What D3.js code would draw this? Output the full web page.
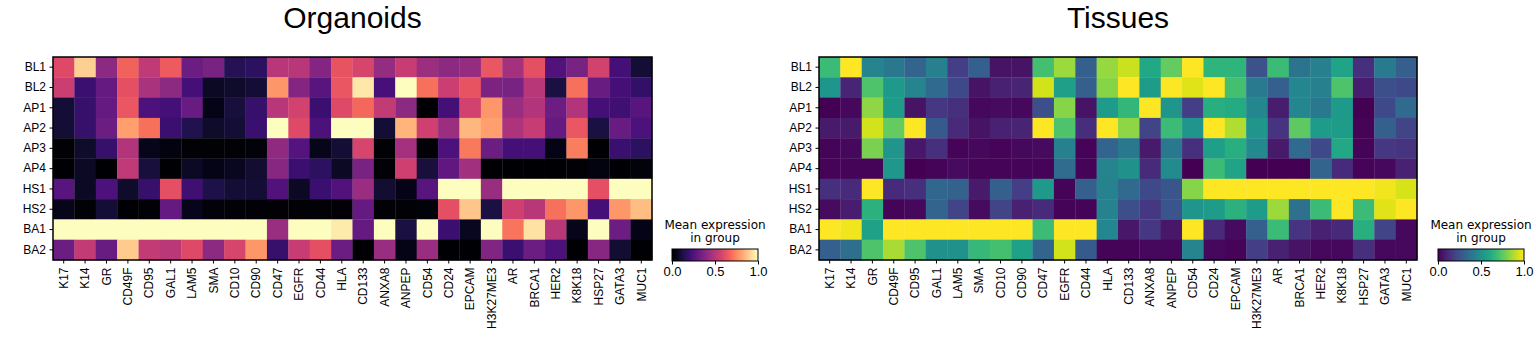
<!DOCTYPE html>
<html>
<head>
<meta charset="utf-8">
<script src="https://cdn.jsdelivr.net/npm/d3@7"></script>
<style>
  body { margin: 0; background: #fff; }
  svg { display: block; font-family: "DejaVu Sans", sans-serif; }
  .title { font-family: "Liberation Sans", Arial, sans-serif; font-size: 30px; }
  .axis text { font-size: 12px; fill: #000; }
  .axis path { display: none; }
  .axis line { stroke: #000; stroke-width: 1; }
  .cblabel { font-size: 12px; }
</style>
</head>
<body>
<div id="chart"></div>
<script>
// markers along x, groups along y
const genes = ["K17", "K14", "GR", "CD49F", "CD95", "GAL1", "LAM5", "SMA", "CD10", "CD90",
    "CD47", "EGFR", "CD44", "HLA", "CD133", "ANXA8", "ANPEP", "CD54", "CD24", "EPCAM",
    "H3K27ME3", "AR", "BRCA1", "HER2", "K8K18", "HSP27", "GATA3", "MUC1"];
const groups = ["BL1", "BL2", "AP1", "AP2", "AP3", "AP4", "HS1", "HS2", "BA1", "BA2"];
const cbTicks = [0, 0.5, 1];

// mean expression in group, one row per group (Organoids)
const organoids = [
    [0.60,0.90,0.40,0.67,0.52,0.65,0.32,0.35,0.15,0.17,0.50,0.50,0.38,0.63,0.58,0.42,0.54,0.44,0.40,0.42,0.64,0.46,0.62,0.25,0.35,0.57,0.22,0.10],
    [0.55,0.20,0.30,0.62,0.47,0.40,0.22,0.07,0.08,0.10,0.78,0.38,0.27,0.64,0.95,0.23,1.00,0.70,0.55,0.63,0.36,0.35,0.50,0.12,0.70,0.31,0.22,0.18],
    [0.10,0.19,0.30,0.64,0.24,0.22,0.31,0.04,0.11,0.19,0.50,0.57,0.20,0.60,0.68,0.53,0.40,0.00,0.22,0.57,0.78,0.43,0.49,0.32,0.49,0.22,0.21,0.27],
    [0.10,0.19,0.32,0.80,0.70,0.20,0.14,0.08,0.10,0.20,1.00,0.60,0.24,1.00,1.00,0.10,0.84,0.56,0.44,0.85,0.80,0.48,0.54,0.30,0.64,0.12,0.31,0.24],
    [0.01,0.08,0.19,0.49,0.05,0.03,0.01,0.01,0.01,0.02,0.41,0.26,0.05,0.10,0.58,0.01,0.46,0.01,0.24,0.72,0.32,0.22,0.22,0.04,0.73,0.00,0.20,0.17],
    [0.00,0.07,0.00,0.52,0.11,0.00,0.07,0.04,0.06,0.09,0.39,0.20,0.17,0.07,0.35,0.01,0.56,0.11,0.29,0.45,0.00,0.00,0.00,0.00,0.01,0.03,0.00,0.02],
    [0.27,0.07,0.24,0.08,0.19,0.62,0.21,0.13,0.10,0.10,0.25,0.07,0.20,0.25,0.43,0.09,0.04,0.27,1.00,1.00,0.43,1.00,1.00,1.00,1.00,0.62,1.00,1.00],
    [0.05,0.01,0.10,0.00,0.01,0.30,0.05,0.02,0.01,0.01,0.01,0.01,0.01,0.01,0.30,0.01,0.01,0.02,0.62,0.88,0.12,0.56,0.50,0.70,0.78,0.22,0.78,0.86],
    [1.00,1.00,1.00,1.00,1.00,1.00,1.00,1.00,1.00,1.00,0.43,1.00,1.00,0.96,0.30,1.00,0.12,1.00,0.20,0.06,1.00,0.71,0.94,0.50,0.05,1.00,0.32,0.04],
    [0.32,0.53,0.31,0.89,0.53,0.51,0.60,0.40,0.58,0.78,0.19,0.54,0.62,0.32,0.00,0.43,0.04,0.43,0.00,0.00,0.37,0.20,0.32,0.24,0.00,0.39,0.09,0.00]
];

// same layout for Tissues
const tissues = [
    [0.68,1.00,0.45,0.40,0.32,0.43,0.18,0.30,0.05,0.05,0.70,0.85,0.30,0.84,0.92,0.60,0.76,1.00,0.65,0.65,0.25,0.68,0.38,0.43,0.58,0.14,0.41,0.30],
    [0.52,0.10,0.72,0.54,0.45,0.34,0.22,0.05,0.09,0.10,0.93,0.56,0.30,0.82,1.00,0.55,1.00,0.95,1.00,0.70,0.41,0.30,0.46,0.43,0.72,0.08,0.24,0.22],
    [0.00,0.02,0.83,0.55,0.05,0.16,0.14,0.02,0.03,0.02,0.24,0.82,0.05,0.55,0.66,1.00,0.52,0.18,0.63,0.61,0.46,0.08,0.46,0.40,0.54,0.00,0.22,0.34],
    [0.07,0.07,0.93,0.76,1.00,0.28,0.12,0.05,0.09,0.10,1.00,0.72,0.13,1.00,0.83,0.20,0.68,0.52,1.00,0.88,0.52,0.15,0.75,0.55,0.55,0.01,0.30,0.20],
    [0.01,0.02,0.80,0.52,0.06,0.14,0.01,0.02,0.01,0.02,0.03,0.43,0.01,0.32,0.40,0.07,0.40,0.14,0.56,0.63,0.47,0.07,0.34,0.22,0.60,0.01,0.16,0.15],
    [0.01,0.01,0.01,0.53,0.00,0.01,0.03,0.01,0.01,0.01,0.01,0.35,0.01,0.45,0.50,0.12,0.48,0.00,0.68,0.58,0.00,0.00,0.00,0.32,0.12,0.01,0.02,0.09],
    [0.14,0.12,1.00,0.12,0.14,0.33,0.31,0.07,0.30,0.18,0.54,0.01,0.30,0.44,0.34,0.22,0.26,0.82,1.00,1.00,1.00,1.00,1.00,1.00,1.00,1.00,0.98,0.94],
    [0.03,0.08,0.64,0.01,0.02,0.32,0.20,0.03,0.20,0.09,0.12,0.01,0.01,0.44,0.24,0.16,0.26,0.52,0.55,0.64,0.55,0.85,0.37,0.68,1.00,0.68,0.95,1.00],
    [1.00,0.98,0.57,1.00,1.00,1.00,1.00,1.00,1.00,1.00,0.68,1.00,1.00,0.46,0.06,0.16,0.06,1.00,0.12,0.03,0.30,0.68,0.15,0.09,0.11,0.63,0.20,0.02],
    [0.30,0.36,0.72,0.87,0.72,0.50,0.50,0.67,0.70,0.57,0.32,0.93,0.28,0.01,0.01,0.02,0.02,0.45,0.02,0.01,0.18,0.09,0.05,0.02,0.02,0.14,0.02,0.02]
];

const width = 1536, height = 346;
const plotTop = 57, plotBottom = 260;

const svg = d3.select("#chart").append("svg")
    .attr("width", width)
    .attr("height", height);

const defs = svg.append("defs");

drawPanel({ left: 53, right: 652, title: "Organoids", values: organoids,
    interp: d3.interpolateMagma, cbLeft: 672, id: "magma" });
drawPanel({ left: 819, right: 1417, title: "Tissues", values: tissues,
    interp: d3.interpolateViridis, cbLeft: 1438, id: "viridis" });

function drawPanel(p) {
    const x = d3.scaleBand().domain(genes).range([p.left, p.right]);
    const y = d3.scaleBand().domain(groups).range([plotTop, plotBottom]);
    const color = d3.scaleSequential(p.interp).domain([0, 1]);

    const cells = [];
    p.values.forEach((row, i) => {
        row.forEach((v, j) => cells.push({ group: groups[i], gene: genes[j], value: v }));
    });

    const g = svg.append("g");

    g.selectAll("rect.cell")
        .data(cells)
        .join("rect")
        .attr("class", "cell")
        .attr("x", d => x(d.gene))
        .attr("y", d => y(d.group))
        .attr("width", x.bandwidth() + 0.3)
        .attr("height", y.bandwidth() + 0.3)
        .attr("fill", d => color(d.value));

    // frame
    g.append("rect")
        .attr("x", p.left)
        .attr("y", plotTop)
        .attr("width", p.right - p.left)
        .attr("height", plotBottom - plotTop)
        .attr("fill", "none")
        .attr("stroke", "#000")
        .attr("stroke-width", 1.5);

    g.append("g")
        .attr("class", "axis")
        .attr("transform", `translate(0,${plotBottom})`)
        .call(d3.axisBottom(x).tickSize(3.5).tickPadding(3.5))
        .selectAll("text")
        .attr("transform", "rotate(-90)")
        .attr("text-anchor", "end")
        .attr("x", -7.5)
        .attr("y", 0)
        .attr("dy", "0.35em");

    g.append("g")
        .attr("class", "axis")
        .attr("transform", `translate(${p.left},0)`)
        .call(d3.axisLeft(y).tickSize(3.5).tickPadding(3.5));

    g.append("text")
        .attr("class", "title")
        .attr("x", (p.left + p.right) / 2)
        .attr("y", 28)
        .attr("text-anchor", "middle")
        .text(p.title);

    // colorbar
    const cbW = 86, cbTop = 249, cbH = 12;
    const grad = defs.append("linearGradient").attr("id", "grad-" + p.id);
    d3.range(0, 1.001, 0.05).forEach(t => {
        grad.append("stop").attr("offset", t).attr("stop-color", p.interp(t));
    });
    const cx = d3.scaleLinear().domain([0, 1]).range([p.cbLeft, p.cbLeft + cbW]);

    g.append("rect")
        .attr("x", p.cbLeft)
        .attr("y", cbTop)
        .attr("width", cbW)
        .attr("height", cbH)
        .attr("fill", `url(#grad-${p.id})`)
        .attr("stroke", "#000")
        .attr("stroke-width", 1);

    g.append("g")
        .attr("class", "axis")
        .attr("transform", `translate(0,${cbTop + cbH})`)
        .call(d3.axisBottom(cx).tickValues(cbTicks).tickFormat(d3.format(".1f"))
            .tickSize(3.5).tickPadding(2))
        .selectAll("text")
        .style("font-size", "13px");

    const lab = g.append("text")
        .attr("class", "cblabel")
        .attr("text-anchor", "middle");
    lab.append("tspan").attr("x", p.cbLeft + cbW / 2).attr("y", 229).text("Mean expression");
    lab.append("tspan").attr("x", p.cbLeft + cbW / 2).attr("y", 242).text("in group");
}
</script>
</body>
</html>
